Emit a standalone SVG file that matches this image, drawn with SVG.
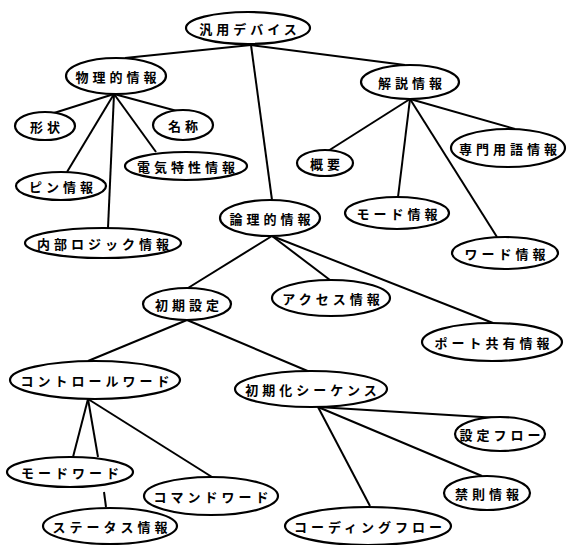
<svg xmlns="http://www.w3.org/2000/svg" width="570" height="545" viewBox="0 0 570 545">
<style>
ellipse{fill:#fff;stroke:#000;stroke-width:2.2}
text{font-family:"Noto Sans CJK JP","Noto Sans",sans-serif;font-size:13px;font-weight:bold;letter-spacing:4px;text-anchor:middle;dominant-baseline:central;fill:#000}
#edges line{stroke:#000;stroke-width:2}
</style>
<rect width="570" height="545" fill="#fff"/>
<g id="edges">
<line x1="251" y1="45" x2="125" y2="58"/>
<line x1="251" y1="45" x2="405" y2="65"/>
<line x1="251" y1="45" x2="272" y2="200"/>
<line x1="114" y1="94" x2="54" y2="113"/>
<line x1="114" y1="94" x2="177" y2="111"/>
<line x1="114" y1="94" x2="67" y2="172"/>
<line x1="114" y1="94" x2="156" y2="152"/>
<line x1="114" y1="94" x2="108" y2="228"/>
<line x1="410" y1="99" x2="328" y2="151"/>
<line x1="410" y1="99" x2="515" y2="129"/>
<line x1="410" y1="99" x2="398" y2="197"/>
<line x1="410" y1="99" x2="497" y2="237"/>
<line x1="272" y1="236" x2="188" y2="288"/>
<line x1="272" y1="236" x2="330" y2="280"/>
<line x1="272" y1="236" x2="493" y2="323"/>
<line x1="187" y1="320" x2="88" y2="361"/>
<line x1="187" y1="320" x2="310" y2="372"/>
<line x1="88" y1="399" x2="73" y2="457"/>
<line x1="88" y1="399" x2="98" y2="457"/>
<line x1="88" y1="399" x2="212" y2="477"/>
<line x1="104" y1="492" x2="106" y2="507"/>
<line x1="318" y1="407" x2="498" y2="418"/>
<line x1="318" y1="407" x2="482" y2="476"/>
<line x1="318" y1="407" x2="370" y2="506"/>
</g>
<g id="n-hanyou"><ellipse cx="248" cy="28" rx="62" ry="16"/><text x="250" y="28">汎用デバイス</text></g>
<g id="n-butsuri"><ellipse cx="116" cy="76" rx="50" ry="18"/><text x="118" y="76">物理的情報</text></g>
<g id="n-kaisetsu"><ellipse cx="410" cy="82" rx="49" ry="17"/><text x="412" y="82">解説情報</text></g>
<g id="n-keijou"><ellipse cx="45" cy="126" rx="30" ry="14"/><text x="47" y="126">形状</text></g>
<g id="n-meishou"><ellipse cx="183" cy="125" rx="30" ry="15"/><text x="185" y="125">名称</text></g>
<g id="n-pin"><ellipse cx="61" cy="186" rx="45" ry="14"/><text x="63" y="186">ピン情報</text></g>
<g id="n-denki"><ellipse cx="186" cy="166" rx="61" ry="14"/><text x="188" y="166">電気特性情報</text></g>
<g id="n-naibu"><ellipse cx="103" cy="243" rx="78" ry="15"/><text x="105" y="243">内部ロジック情報</text></g>
<g id="n-ronri"><ellipse cx="270" cy="218" rx="50" ry="18"/><text x="272" y="218">論理的情報</text></g>
<g id="n-gaiyou"><ellipse cx="325" cy="163" rx="28" ry="13"/><text x="327" y="163">概要</text></g>
<g id="n-senmon"><ellipse cx="508" cy="148" rx="57" ry="19"/><text x="510" y="148">専門用語情報</text></g>
<g id="n-mode"><ellipse cx="397" cy="213" rx="52" ry="16"/><text x="399" y="213">モード情報</text></g>
<g id="n-word"><ellipse cx="505" cy="253" rx="53" ry="16"/><text x="507" y="253">ワード情報</text></g>
<g id="n-shoki"><ellipse cx="187" cy="304" rx="44" ry="16"/><text x="189" y="304">初期設定</text></g>
<g id="n-access"><ellipse cx="331" cy="298" rx="59" ry="18"/><text x="333" y="298">アクセス情報</text></g>
<g id="n-port"><ellipse cx="492" cy="342" rx="70" ry="19"/><text x="494" y="342">ポート共有情報</text></g>
<g id="n-control"><ellipse cx="95" cy="380" rx="85" ry="19"/><text x="97" y="380">コントロールワード</text></g>
<g id="n-shokika"><ellipse cx="311" cy="389" rx="76" ry="18"/><text x="313" y="389">初期化シーケンス</text></g>
<g id="n-modeword"><ellipse cx="70" cy="472" rx="63" ry="15"/><text x="72" y="472">モードワード</text></g>
<g id="n-command"><ellipse cx="211" cy="496" rx="67" ry="19"/><text x="213" y="496">コマンドワード</text></g>
<g id="n-status"><ellipse cx="110" cy="526" rx="67" ry="18"/><text x="112" y="526">ステータス情報</text></g>
<g id="n-settei"><ellipse cx="500" cy="434" rx="45" ry="17"/><text x="502" y="434">設定フロー</text></g>
<g id="n-kinsoku"><ellipse cx="487" cy="493" rx="43" ry="17"/><text x="489" y="493">禁則情報</text></g>
<g id="n-coding"><ellipse cx="368" cy="526" rx="83" ry="19"/><text x="370" y="526">コーディングフロー</text></g>
</svg>
